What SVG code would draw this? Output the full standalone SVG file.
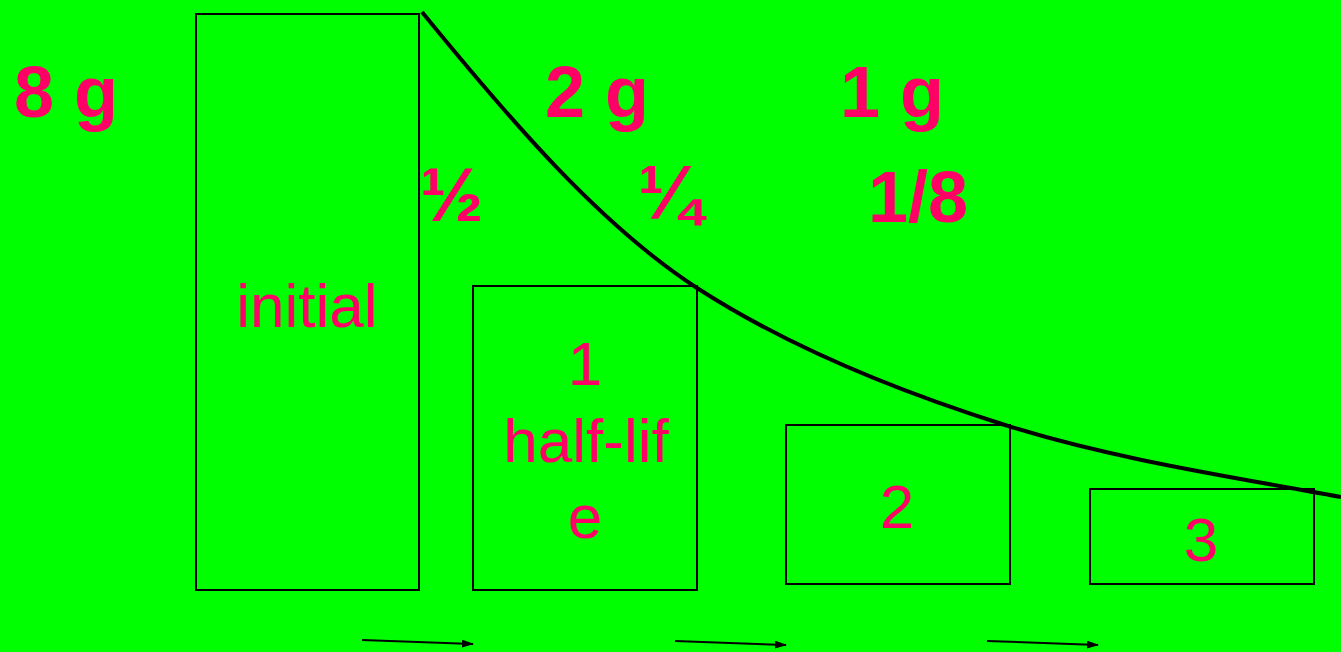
<svg xmlns="http://www.w3.org/2000/svg" width="1341" height="652" viewBox="0 0 1341 652">
<defs>
<style>
.box{fill:none;stroke:#000;stroke-width:2}
.big{font-family:"Liberation Sans",Arial,sans-serif;font-weight:bold;font-size:72px;fill:#FF0066}
.frac{font-size:76px}
.lbl{font-family:"Liberation Sans",Arial,sans-serif;font-size:62px;fill:#FF0066;text-anchor:middle}
.arr{stroke:#000;stroke-width:2;fill:none;marker-end:url(#ah)}
</style>
<marker id="ah" markerWidth="12" markerHeight="8" refX="11" refY="4" orient="auto" markerUnits="userSpaceOnUse">
<path d="M0,0 L12,4 L0,8 Z" fill="#000"/>
</marker>
</defs>
<rect width="1341" height="652" fill="#00FF00"/>
<g id="labels">
<text class="big" x="14" y="117">8 g</text>
<text class="big" x="545" y="117">2 g</text>
<text class="big" x="840" y="117">1 g</text>
<text class="big frac" x="420" y="221">½</text>
<text class="big frac" x="638" y="219">¼</text>
<text class="big" x="868" y="222">1/8</text>
</g>
<g id="node-initial">
<rect class="box" x="196" y="14" width="223" height="576"/>
<text class="lbl" x="307" y="327">initial</text>
</g>
<g id="node-1">
<rect class="box" x="473" y="286" width="224" height="304"/>
<text class="lbl" x="585" y="385">1</text>
<text class="lbl" x="586" y="462">half-lif</text>
<text class="lbl" x="585" y="538">e</text>
</g>
<g id="node-2">
<rect class="box" x="786" y="425" width="224" height="159"/>
<text class="lbl" x="897" y="528">2</text>
</g>
<g id="node-3">
<rect class="box" x="1090" y="489" width="224" height="95"/>
<text class="lbl" x="1201" y="561">3</text>
</g>
<g id="connectors">
<path d="M422,12 C510,120 600,225 697,288 C790,348 900,392 1005,425 C1110,458 1220,475 1341,497" fill="none" stroke="#000" stroke-width="4"/>
<line class="arr" x1="362" y1="640" x2="473" y2="644"/>
<line class="arr" x1="675" y1="641" x2="786" y2="645"/>
<line class="arr" x1="987" y1="641" x2="1098" y2="645"/>
</g>
</svg>
